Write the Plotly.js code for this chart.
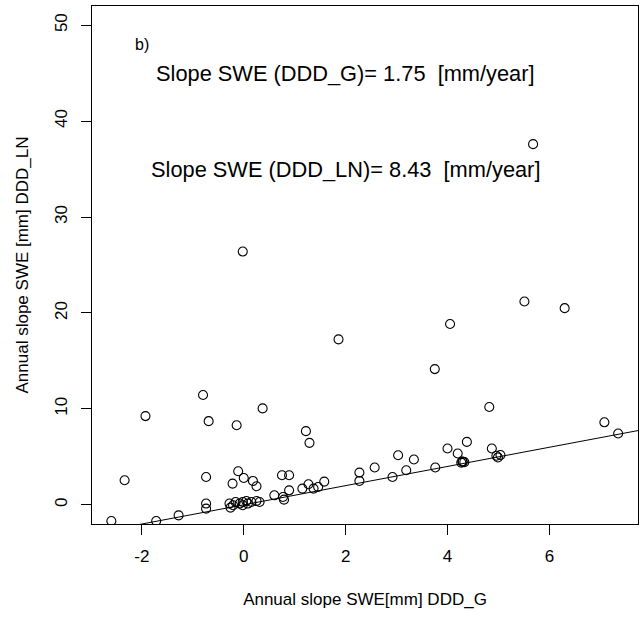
<!DOCTYPE html>
<html>
<head>
<meta charset="utf-8">
<script src="https://cdn.plot.ly/plotly-3.0.1.min.js"></script>
<style>html,body{margin:0;padding:0;background:#fff;}#chart{width:643px;height:618px;}</style>
</head>
<body>
<div id="chart"></div>
<script>
// Annual slope SWE [mm] DDD_G (x) vs DDD_LN (y)
const slopeG = [
  5.68, -0.02, 5.51, 6.30, 4.05, 1.86, 3.75, -0.80, 4.82, 0.37,
  -1.93, 7.08, -0.69, -0.14, 1.22, 7.35, 1.29, 4.38, 4.00, 4.87,
  4.20, 3.03, 4.96, 5.04, 4.99, 3.34, 4.27, 4.30, 4.33, 4.29,
  2.57, 3.76, 3.19, 2.27, 2.27, 2.92, -0.11, -0.74, -2.34, 0.75,
  0.89, 0.00, -0.22, 0.18, 0.25, 1.58, 1.27, 1.15, 1.37, 1.46,
  0.89, 0.60, 0.77, 0.79, -0.74, -0.74, -2.60, -1.72, -1.28, -0.28,
  -0.21, -0.16, -0.08, -0.02, 0.05, 0.08, 0.15, 0.25, 0.31, -0.26,
  -0.02
];
const slopeLN = [
  37.6, 26.4, 21.2, 20.5, 18.85, 17.25, 14.15, 11.45, 10.2, 10.05,
  9.25, 8.6, 8.72, 8.3, 7.68, 7.44, 6.46, 6.56, 5.87, 5.87,
  5.35, 5.17, 5.12, 5.19, 4.94, 4.72, 4.40, 4.48, 4.45, 4.52,
  3.89, 3.89, 3.60, 3.36, 2.49, 2.90, 3.50, 2.90, 2.56, 3.08,
  3.08, 2.80, 2.21, 2.49, 1.93, 2.42, 2.14, 1.69, 1.69, 1.86,
  1.51, 0.99, 0.81, 0.54, 0.13, -0.40, -1.69, -1.69, -1.10, 0.13,
  -0.05, 0.29, 0.13, 0.29, 0.40, 0.13, 0.29, 0.40, 0.29, -0.29,
  -0.05
];
const xTicks = [-2, 0, 2, 4, 6];
const yTicks = [0, 10, 20, 30, 40, 50];
const xRange = [-2.98, 7.74];
const yRange = [-2, 52];
// reference line (abline)
const lineIntercept = 0;
const lineSlope = 1;
const labels = {
  panel: "b)",
  slopeG: "Slope SWE (DDD_G)= 1.75 \u00a0[mm/year]",
  slopeLN: "Slope SWE (DDD_LN)= 8.43 \u00a0[mm/year]",
  xTitle: "Annual slope SWE[mm] DDD_G",
  yTitle: "Annual slope SWE [mm] DDD_LN"
};
const labelPos = { panel: [-2, 48], slopeG: [2, 45], slopeLN: [2, 35] };

const font = "Liberation Sans, Arial, sans-serif";
const lineX = [xRange[0], xRange[1]];
const lineY = lineX.map(v => lineIntercept + lineSlope * v);

const traces = [
  {
    x: slopeG, y: slopeLN, type: "scatter", mode: "markers",
    marker: { symbol: "circle-open", size: 9, color: "#000", line: { width: 1.1, color: "#000" } },
    hoverinfo: "x+y", showlegend: false
  },
  {
    x: lineX, y: lineY, type: "scatter", mode: "lines",
    line: { color: "#000", width: 1 }, hoverinfo: "skip", showlegend: false
  }
];

const layout = {
  width: 643, height: 618,
  margin: { l: 92, r: 5, t: 6, b: 94, pad: 0 },
  paper_bgcolor: "#fff", plot_bgcolor: "#fff",
  font: { family: font, size: 17, color: "#000" },
  showlegend: false,
  xaxis: {
    range: xRange, tickvals: xTicks, ticktext: xTicks.map(String),
    showgrid: false, zeroline: false, showline: true, mirror: true,
    linecolor: "#000", linewidth: 1, ticks: "outside", ticklen: 10, tickwidth: 1, tickcolor: "#000",
    tickfont: { family: font, size: 17, color: "#000" }, ticklabelstandoff: 7,
    title: { text: labels.xTitle, font: { family: font, size: 17, color: "#000" }, standoff: 27 },
    automargin: false
  },
  yaxis: {
    range: yRange, tickvals: yTicks, ticktext: yTicks.map(String),
    showgrid: false, zeroline: false, showline: true, mirror: true,
    linecolor: "#000", linewidth: 1, ticks: "outside", ticklen: 10, tickwidth: 1, tickcolor: "#000",
    tickangle: -90, tickfont: { family: font, size: 17, color: "#000" }, ticklabelstandoff: 7,
    title: { text: labels.yTitle, font: { family: font, size: 17, color: "#000" }, standoff: 19 },
    automargin: false
  },
  annotations: [
    { x: labelPos.panel[0], y: labelPos.panel[1], xref: "x", yref: "y", text: labels.panel, showarrow: false,
      xanchor: "center", yanchor: "middle", font: { family: font, size: 16, color: "#000" } },
    { x: labelPos.slopeG[0], y: labelPos.slopeG[1], xref: "x", yref: "y", text: labels.slopeG, showarrow: false,
      xanchor: "center", yanchor: "middle", font: { family: font, size: 21.8, color: "#000" } },
    { x: labelPos.slopeLN[0], y: labelPos.slopeLN[1], xref: "x", yref: "y", text: labels.slopeLN, showarrow: false,
      xanchor: "center", yanchor: "middle", font: { family: font, size: 21.8, color: "#000" } }
  ]
};

Plotly.newPlot("chart", traces, layout, { displayModeBar: false, staticPlot: true });
</script>
</body>
</html>
